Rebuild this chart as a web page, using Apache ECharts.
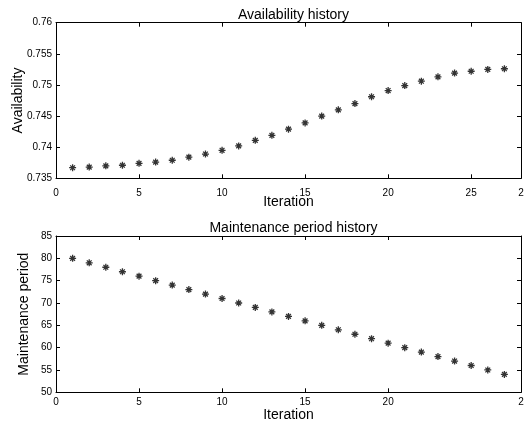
<!DOCTYPE html>
<html>
<head>
<meta charset="utf-8">
<script src="https://cdn.jsdelivr.net/npm/echarts@6/dist/echarts.min.js"></script>
<style>
  html, body { margin: 0; padding: 0; background: #fff; }
  #chart { width: 526px; height: 427px; }
</style>
</head>
<body>
<div id="chart"></div>
<script>
// Optimisation run: iteration index and the two tracked quantities
const iterations = [1,2,3,4,5,6,7,8,9,10,11,12,13,14,15,16,17,18,19,20,21,22,23,24,25,26,27];
const availability = [
  0.7367, 0.7368, 0.7370, 0.7371, 0.7374, 0.7376, 0.7379, 0.7384, 0.7389, 0.7395,
  0.7402, 0.7411, 0.7419, 0.7429, 0.7439, 0.7450, 0.7460, 0.7470, 0.7481, 0.7491,
  0.7499, 0.7506, 0.7513, 0.7519, 0.7522, 0.7525, 0.7526
];
const maintenancePeriod = [
  80, 79, 78, 77, 76, 75, 74, 73, 72, 71, 70, 69, 68, 67, 66, 65, 64, 63, 62, 61,
  60, 59, 58, 57, 56, 55, 54
];

// Tick positions and their printed labels
const xTicksTop = [0, 5, 10, 15, 20, 25, 28];
const xTickLabelsTop = ['0', '5', '10', '15', '20', '25', '2'];
const xTicksBottom = [0, 5, 10, 15, 20, 28];
const xTickLabelsBottom = ['0', '5', '10', '15', '20', '2'];
const yTicksAvail = [0.735, 0.74, 0.745, 0.75, 0.755, 0.76];
const yTickLabelsAvail = ['0.735', '0.74', '0.745', '0.75', '0.755', '0.76'];
const yTicksMaint = [50, 55, 60, 65, 70, 75, 80, 85];
const yTickLabelsMaint = ['50', '55', '60', '65', '70', '75', '80', '85'];

const FONT = '"Liberation Sans", Arial, Helvetica, sans-serif';
const ASTERISK = 'path://M5,0L5,10M0,5L10,5M1.6,1.6L8.4,8.4M1.6,8.4L8.4,1.6';

function labelFor(values, labels) {
  return function (v) {
    for (let i = 0; i < values.length; i++) {
      if (Math.abs(values[i] - v) < 1e-9) return labels[i];
    }
    return '';
  };
}

function boxAxis(opts) {
  const o = {
    type: 'value',
    gridIndex: opts.grid,
    position: opts.position,
    min: opts.min,
    max: opts.max,
    splitLine: { show: false },
    axisLine: { show: true, onZero: false, lineStyle: { color: '#000', width: 1 } },
    axisTick: {
      show: true, inside: true, length: 4,
      customValues: opts.ticks,
      lineStyle: { color: '#000', width: 1 }
    },
    axisLabel: {
      show: !!opts.labels,
      customValues: opts.ticks,
      color: '#000',
      fontFamily: FONT,
      fontSize: 10,
      margin: opts.margin || 8,
      hideOverlap: false,
      formatter: opts.labels ? labelFor(opts.ticks, opts.labels) : undefined
    }
  };
  if (opts.name) {
    o.name = opts.name;
    o.nameLocation = 'middle';
    o.nameGap = opts.nameGap;
    o.nameMoveOverlap = false;
    o.nameTextStyle = { color: '#000', fontFamily: FONT, fontSize: 14 };
  }
  return o;
}

const chart = echarts.init(document.getElementById('chart'), null, { renderer: 'canvas' });

chart.setOption({
  backgroundColor: '#fff',
  animation: false,
  title: [
    {
      text: 'Availability history',
      left: 288.5, top: 3, textAlign: 'center',
      textStyle: { fontFamily: FONT, fontSize: 14, fontWeight: 'normal', color: '#000' }
    },
    {
      text: 'Maintenance period history',
      left: 288.5, top: 216, textAlign: 'center',
      textStyle: { fontFamily: FONT, fontSize: 14, fontWeight: 'normal', color: '#000' }
    }
  ],
  grid: [
    { left: 56, right: 5, top: 22.7, height: 155.6, containLabel: false, outerBoundsMode: 'none' },
    { left: 56, right: 5, top: 236, height: 156.3, containLabel: false, outerBoundsMode: 'none' }
  ],
  xAxis: [
    boxAxis({ grid: 0, position: 'bottom', min: 0, max: 28, ticks: xTicksTop, labels: xTickLabelsTop, margin: 10, name: 'Iteration', nameGap: 17 }),
    boxAxis({ grid: 0, position: 'top', min: 0, max: 28, ticks: xTicksTop }),
    boxAxis({ grid: 1, position: 'bottom', min: 0, max: 28, ticks: xTicksBottom, labels: xTickLabelsBottom, margin: 5, name: 'Iteration', nameGap: 15.5 }),
    boxAxis({ grid: 1, position: 'top', min: 0, max: 28, ticks: xTicksBottom })
  ],
  yAxis: [
    boxAxis({ grid: 0, position: 'left', min: 0.735, max: 0.76, ticks: yTicksAvail, labels: yTickLabelsAvail, margin: 4, name: 'Availability', nameGap: 31 }),
    boxAxis({ grid: 0, position: 'right', min: 0.735, max: 0.76, ticks: yTicksAvail }),
    boxAxis({ grid: 1, position: 'left', min: 50, max: 85, ticks: yTicksMaint, labels: yTickLabelsMaint, margin: 4, name: 'Maintenance period', nameGap: 25 }),
    boxAxis({ grid: 1, position: 'right', min: 50, max: 85, ticks: yTicksMaint })
  ],
  series: [
    {
      type: 'scatter',
      xAxisIndex: 0, yAxisIndex: 0,
      data: iterations.map((it, i) => [it, availability[i]]),
      symbol: ASTERISK, symbolSize: 7, symbolKeepAspect: true,
      itemStyle: { color: 'rgba(0,0,0,0)', borderColor: '#000', borderWidth: 1.3 },
      emphasis: { disabled: true }
    },
    {
      type: 'scatter',
      xAxisIndex: 2, yAxisIndex: 2,
      data: iterations.map((it, i) => [it, maintenancePeriod[i]]),
      symbol: ASTERISK, symbolSize: 7, symbolKeepAspect: true,
      itemStyle: { color: 'rgba(0,0,0,0)', borderColor: '#000', borderWidth: 1.3 },
      emphasis: { disabled: true }
    }
  ]
});
</script>
</body>
</html>
